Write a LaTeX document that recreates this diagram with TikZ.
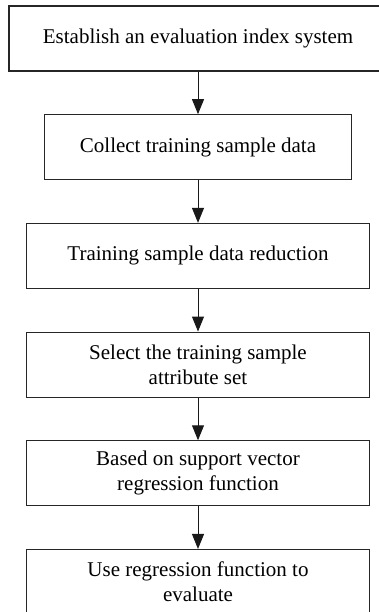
\documentclass[tikz,border=0pt]{standalone}
\usepackage{fontspec}
\setmainfont{Liberation Serif}
\usepackage{tikz}
\usetikzlibrary{arrows.meta,positioning}

\begin{document}
\begin{tikzpicture}[
    x=1pt, y=1pt,
    node distance=42.6pt,
    box/.style={rectangle, draw=black!85, line width=1.1pt, minimum width=343pt, minimum height=65pt, align=center, inner sep=0pt, font=\fontsize{21}{25}\selectfont},
    arrow/.style={-{Triangle[width=12pt,length=15pt]}, line width=1pt, black!90}
]
\useasboundingbox (0,0) rectangle (378,-612);

% Steps
\node[box, minimum width=378pt] (index) at (198,-38.5) {Establish an evaluation index system};
\node[box, minimum width=307pt, below=of index] (collect) {Collect training sample data};
\node[box, below=of collect] (reduce) {Training sample data reduction};
\node[box, below=of reduce] (attr) {Select the training sample\\attribute set};
\node[box, below=of attr] (svr) {Based on support vector\\regression function};
\node[box, below=of svr] (evaluate) {Use regression function to\\evaluate};

% Arrows
\draw[arrow] (index) -- (collect);
\draw[arrow] (collect) -- (reduce);
\draw[arrow] (reduce) -- (attr);
\draw[arrow] (attr) -- (svr);
\draw[arrow] (svr) -- (evaluate);

\end{tikzpicture}
\end{document}
